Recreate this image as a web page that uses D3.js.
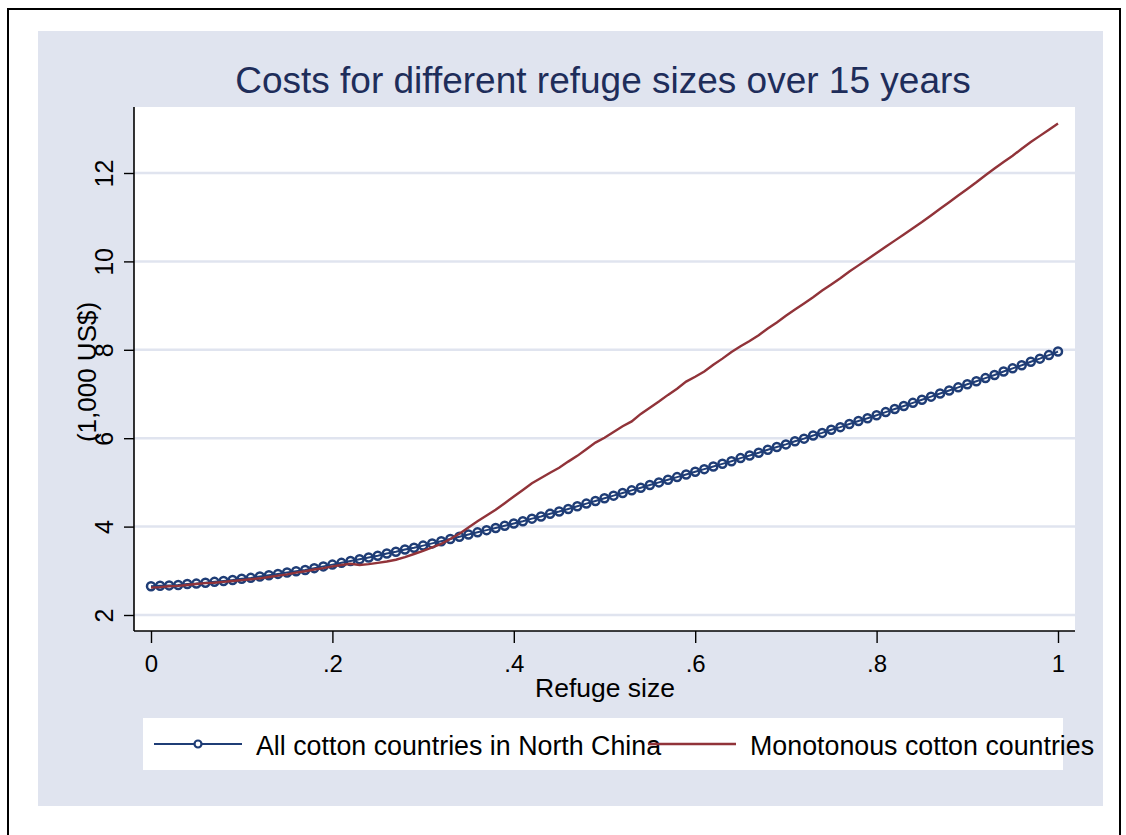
<!DOCTYPE html>
<html>
<head>
<meta charset="utf-8">
<script src="https://cdn.jsdelivr.net/npm/d3@7"></script>
<style>
  body { margin: 0; background: #fff; }
  text { font-family: "Liberation Sans", Arial, sans-serif; }
</style>
</head>
<body>
<svg id="figure" width="1126" height="835"></svg>
<script>
// refuge size (share of area), 0 to 1 in steps of 0.01
const refugeSize = [
  0.00, 0.01, 0.02, 0.03, 0.04, 0.05, 0.06, 0.07, 0.08, 0.09,
  0.10, 0.11, 0.12, 0.13, 0.14, 0.15, 0.16, 0.17, 0.18, 0.19,
  0.20, 0.21, 0.22, 0.23, 0.24, 0.25, 0.26, 0.27, 0.28, 0.29,
  0.30, 0.31, 0.32, 0.33, 0.34, 0.35, 0.36, 0.37, 0.38, 0.39,
  0.40, 0.41, 0.42, 0.43, 0.44, 0.45, 0.46, 0.47, 0.48, 0.49,
  0.50, 0.51, 0.52, 0.53, 0.54, 0.55, 0.56, 0.57, 0.58, 0.59,
  0.60, 0.61, 0.62, 0.63, 0.64, 0.65, 0.66, 0.67, 0.68, 0.69,
  0.70, 0.71, 0.72, 0.73, 0.74, 0.75, 0.76, 0.77, 0.78, 0.79,
  0.80, 0.81, 0.82, 0.83, 0.84, 0.85, 0.86, 0.87, 0.88, 0.89,
  0.90, 0.91, 0.92, 0.93, 0.94, 0.95, 0.96, 0.97, 0.98, 0.99,
  1.00
];

// costs, 1,000 US$
const allCotton = [
  2.65, 2.66, 2.67, 2.68, 2.70, 2.71, 2.73, 2.75, 2.77, 2.79,
  2.82, 2.84, 2.87, 2.90, 2.93, 2.96, 2.99, 3.02, 3.06, 3.10,
  3.14, 3.18, 3.22, 3.26, 3.30, 3.34, 3.39, 3.43, 3.48, 3.52,
  3.57, 3.62, 3.67, 3.72, 3.77, 3.82, 3.87, 3.92, 3.97, 4.02,
  4.07, 4.12, 4.18, 4.23, 4.29, 4.34, 4.40, 4.46, 4.52, 4.58,
  4.64, 4.70, 4.76, 4.82, 4.88, 4.94, 5.00, 5.06, 5.12, 5.18,
  5.24, 5.30, 5.36, 5.42, 5.48, 5.55, 5.61, 5.67, 5.74, 5.80,
  5.86, 5.93, 5.99, 6.06, 6.12, 6.19, 6.25, 6.32, 6.39, 6.45,
  6.52, 6.59, 6.66, 6.73, 6.80, 6.87, 6.94, 7.01, 7.08, 7.15,
  7.22, 7.29, 7.36, 7.43, 7.51, 7.58, 7.65, 7.73, 7.80, 7.88,
  7.96
];

const monotonous = [
  2.62, 2.63, 2.65, 2.66, 2.68, 2.70, 2.72, 2.73, 2.75, 2.77,
  2.79, 2.81, 2.83, 2.86, 2.89, 2.92, 2.96, 2.99, 3.03, 3.06,
  3.10, 3.13, 3.16, 3.13, 3.15, 3.18, 3.21, 3.25, 3.31, 3.38,
  3.45, 3.53, 3.61, 3.72, 3.84, 3.98, 4.12, 4.25, 4.38, 4.53,
  4.68, 4.83, 4.98, 5.10, 5.22, 5.33, 5.47, 5.60, 5.75, 5.90,
  6.01, 6.14, 6.27, 6.38, 6.55, 6.69, 6.83, 6.98, 7.12, 7.28,
  7.39, 7.51, 7.66, 7.80, 7.95, 8.08, 8.20, 8.33, 8.48, 8.62,
  8.77, 8.91, 9.05, 9.19, 9.34, 9.48, 9.62, 9.77, 9.91, 10.05,
  10.19, 10.33, 10.47, 10.61, 10.75, 10.89, 11.04, 11.19, 11.34, 11.49,
  11.64, 11.79, 11.95, 12.10, 12.25, 12.39, 12.55, 12.70, 12.84, 12.98,
  13.12
];

const xTicks = [0, 0.2, 0.4, 0.6, 0.8, 1];
const yTicks = [2, 4, 6, 8, 10, 12];
const seriesNames = ["All cotton countries in North China", "Monotonous cotton countries"];

const navy = "#1f3d76";
const maroon = "#913339";
const panelBg = "#e0e4ef";

const svg = d3.select("#figure");

// outer frame and graph region
svg.append("rect")
    .attr("x", 8).attr("y", 9)
    .attr("width", 1112).attr("height", 840)
    .attr("fill", "#fff")
    .attr("stroke", "#000")
    .attr("stroke-width", 2);

svg.append("rect")
    .attr("x", 38).attr("y", 31)
    .attr("width", 1065).attr("height", 775)
    .attr("fill", panelBg);

// plot area
const plot = { left: 134, right: 1075, top: 107, bottom: 631 };

svg.append("rect")
    .attr("x", plot.left).attr("y", plot.top)
    .attr("width", plot.right - plot.left).attr("height", plot.bottom - plot.top)
    .attr("fill", "#fff");

const xScale = d3.scaleLinear().domain([0, 1]).range([151, 1058]);
const yScale = d3.scaleLinear().domain([2, 12]).range([615, 173]);

// gridlines
svg.append("g")
    .selectAll("line")
    .data(yTicks)
    .join("line")
    .attr("x1", plot.left).attr("x2", plot.right)
    .attr("y1", d => yScale(d)).attr("y2", d => yScale(d))
    .attr("stroke", panelBg)
    .attr("stroke-width", 2.5);

// axes
const yAxis = svg.append("g")
    .attr("transform", `translate(${plot.left},0)`)
    .call(d3.axisLeft(yScale).tickValues(yTicks).tickSize(10).tickPadding(8).tickFormat(d3.format("d")));
yAxis.select(".domain").attr("d", `M0,${plot.top}V${plot.bottom}`).attr("stroke", "#000").attr("stroke-width", 1.6);
yAxis.selectAll(".tick line").attr("stroke", "#000").attr("stroke-width", 1.4);
yAxis.selectAll(".tick text")
    .attr("x", null).attr("dy", null)
    .attr("transform", "translate(-21,0) rotate(-90)")
    .attr("text-anchor", "middle")
    .attr("fill", "#000")
    .style("font-size", "25px");

const xAxis = svg.append("g")
    .attr("transform", `translate(0,${plot.bottom})`)
    .call(d3.axisBottom(xScale).tickValues(xTicks).tickSize(12).tickPadding(12)
        .tickFormat(d => d === 0 ? "0" : d === 1 ? "1" : d3.format(".1f")(d).replace(/^0/, "")));
xAxis.select(".domain").attr("d", `M${plot.left},0H${plot.right}`).attr("stroke", "#000").attr("stroke-width", 1.6);
xAxis.selectAll(".tick line").attr("stroke", "#000").attr("stroke-width", 1.4);
xAxis.selectAll(".tick text")
    .attr("fill", "#000")
    .style("font-size", "24px");

// series
const pts = refugeSize.map((r, i) => ({ r, a: allCotton[i], m: monotonous[i] }));

svg.append("path")
    .datum(pts)
    .attr("fill", "none")
    .attr("stroke", navy)
    .attr("stroke-width", 2)
    .attr("d", d3.line().x(d => xScale(d.r)).y(d => yScale(d.a)));

svg.append("g")
    .selectAll("circle")
    .data(pts)
    .join("circle")
    .attr("cx", d => xScale(d.r))
    .attr("cy", d => yScale(d.a))
    .attr("r", 4)
    .attr("fill", "none")
    .attr("stroke", navy)
    .attr("stroke-width", 2.5);

svg.append("path")
    .datum(pts)
    .attr("fill", "none")
    .attr("stroke", maroon)
    .attr("stroke-width", 2.4)
    .attr("d", d3.line().x(d => xScale(d.r)).y(d => yScale(d.m)));

// titles
svg.append("text")
    .attr("x", 603).attr("y", 93)
    .attr("text-anchor", "middle")
    .attr("fill", "#1e2d5a")
    .style("font-size", "37px")
    .text("Costs for different refuge sizes over 15 years");

svg.append("text")
    .attr("x", 605).attr("y", 697)
    .attr("text-anchor", "middle")
    .attr("fill", "#000")
    .style("font-size", "26.5px")
    .text("Refuge size");

svg.append("text")
    .attr("transform", "translate(96,372) rotate(-90)")
    .attr("text-anchor", "middle")
    .attr("fill", "#000")
    .style("font-size", "26px")
    .text("(1,000 US$)");

// legend
const legend = svg.append("g");
legend.append("rect")
    .attr("x", 143).attr("y", 718)
    .attr("width", 920).attr("height", 52)
    .attr("fill", "#fff");

const legendItems = [
  { name: seriesNames[0], color: navy, x: 154, marker: true },
  { name: seriesNames[1], color: maroon, x: 648, marker: false }
];

const items = legend.selectAll(".legend-item")
    .data(legendItems)
    .join("g")
    .attr("transform", d => `translate(${d.x},744)`);

items.append("line")
    .attr("x1", 0).attr("x2", 88)
    .attr("stroke", d => d.color)
    .attr("stroke-width", d => d.marker ? 2 : 2.4);

items.filter(d => d.marker).append("circle")
    .attr("cx", 44).attr("r", 3.5)
    .attr("fill", "#fff")
    .attr("stroke", d => d.color)
    .attr("stroke-width", 2.2);

items.append("text")
    .attr("x", 102).attr("y", 11)
    .attr("fill", "#000")
    .style("font-size", "26.8px")
    .text(d => d.name);
</script>
</body>
</html>
